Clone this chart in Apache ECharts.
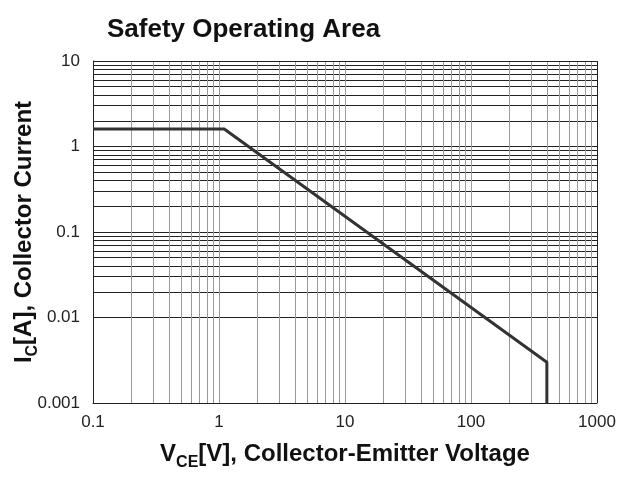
<!DOCTYPE html>
<html>
<head>
<meta charset="utf-8">
<script src="https://cdn.jsdelivr.net/npm/echarts@6/dist/echarts.min.js"></script>
<style>
  html, body { margin: 0; padding: 0; background: #fff; }
  #chart { width: 619px; height: 478px; }
</style>
</head>
<body>
<div id="chart"></div>
<script>
// SOA curve: VCE [V], IC [A]
const vce = [0.1, 1.1, 400, 400];
const ic = [1.6, 1.6, 0.003, 0.001];

// grid line values
const xGridValues = [0.2, 0.3, 0.4, 0.5, 0.6, 0.7, 0.8, 0.9, 1,
  2, 3, 4, 5, 6, 7, 8, 9, 10,
  20, 30, 40, 50, 60, 70, 80, 90, 100,
  200, 300, 400, 500, 600, 700, 800, 900];
const yGridValues = [0.002, 0.003, 0.004, 0.005, 0.006, 0.007, 0.008, 0.009, 0.01,
  0.02, 0.03, 0.04, 0.05, 0.06, 0.07, 0.08, 0.09, 0.1,
  0.2, 0.3, 0.4, 0.5, 0.6, 0.7, 0.8, 0.9, 1,
  2, 3, 4, 5, 6, 7, 8, 9];
const xTickLabels = { 0.1: '0.1', 1: '1', 10: '10', 100: '100', 1000: '1000' };
const yTickLabels = { 0.001: '0.001', 0.01: '0.01', 0.1: '0.1', 1: '1', 10: '10' };

const font = 'Liberation Sans, Arial, sans-serif';
const chart = echarts.init(document.getElementById('chart'));

const curve = vce.map((v, i) => [v, ic[i]]);

// bold axis title with a subscript part
const nameRich = {
  b: { fontFamily: font, fontSize: 24, fontWeight: 'bold', color: '#111', lineHeight: 26, verticalAlign: 'bottom' },
  s: { fontFamily: font, fontSize: 16, fontWeight: 'bold', color: '#111', lineHeight: 26, verticalAlign: 'bottom', padding: [0, 0, -5, 0] }
};

chart.setOption({
  animation: false,
  title: {
    text: 'Safety Operating Area',
    left: 102,
    top: 12,
    textStyle: { fontFamily: font, fontSize: 26, fontWeight: 'bold', color: '#111' }
  },
  grid: { left: 93, right: 22, top: 61, bottom: 75, containLabel: false, outerBoundsMode: 'none' },
  xAxis: {
    type: 'log',
    logBase: 10,
    min: 0.1,
    max: 1000,
    axisLine: { show: true, lineStyle: { color: '#222', width: 1 } },
    axisTick: { show: false },
    splitLine: { show: false },
    axisLabel: {
      margin: 11,
      fontFamily: font,
      fontSize: 17,
      color: '#222',
      formatter: v => xTickLabels[v] || ''
    },
    name: '{b|V}{s|CE}{b|[V], Collector-Emitter Voltage}',
    nameLocation: 'middle',
    nameMoveOverlap: false,
    nameGap: 37,
    nameTextStyle: { rich: nameRich }
  },
  yAxis: {
    type: 'log',
    logBase: 10,
    min: 0.001,
    max: 10,
    axisLine: { show: true, lineStyle: { color: '#222', width: 1 } },
    axisTick: { show: false },
    splitLine: { show: false },
    axisLabel: {
      margin: 13,
      fontFamily: font,
      fontSize: 17,
      color: '#222',
      formatter: v => yTickLabels[v] || ''
    },
    name: '{b|I}{s|C}{b|[A], Collector Current}',
    nameLocation: 'middle',
    nameRotate: 90,
    nameMoveOverlap: false,
    nameGap: 57,
    nameTextStyle: { rich: nameRich }
  },
  series: [
    {
      // horizontal grid lines
      type: 'line',
      data: [[0.1, 0.001]],
      symbol: 'none',
      lineStyle: { opacity: 0 },
      silent: true,
      z: 1,
      markLine: {
        silent: true,
        symbol: 'none',
        label: { show: false },
        lineStyle: { color: '#222', width: 1, type: 'solid' },
        data: yGridValues.map(v => ({ yAxis: v }))
      }
    },
    {
      // vertical grid lines
      type: 'line',
      data: [[0.1, 0.001]],
      symbol: 'none',
      lineStyle: { opacity: 0 },
      silent: true,
      z: 2,
      markLine: {
        silent: true,
        symbol: 'none',
        label: { show: false },
        lineStyle: { color: '#9a9a9a', width: 1, type: 'solid' },
        data: xGridValues.map(v => ({ xAxis: v }))
      }
    },
    {
      // right and top frame
      type: 'line',
      data: [[1000, 10]],
      symbol: 'none',
      lineStyle: { opacity: 0 },
      silent: true,
      z: 3,
      markLine: {
        silent: true,
        symbol: 'none',
        label: { show: false },
        lineStyle: { color: '#222', width: 1, type: 'solid' },
        data: [{ xAxis: 1000 }, { yAxis: 10 }]
      }
    },
    {
      name: 'SOA',
      type: 'line',
      data: curve,
      symbol: 'none',
      z: 5,
      lineStyle: { color: '#333', width: 3 }
    }
  ]
});
</script>
</body>
</html>
